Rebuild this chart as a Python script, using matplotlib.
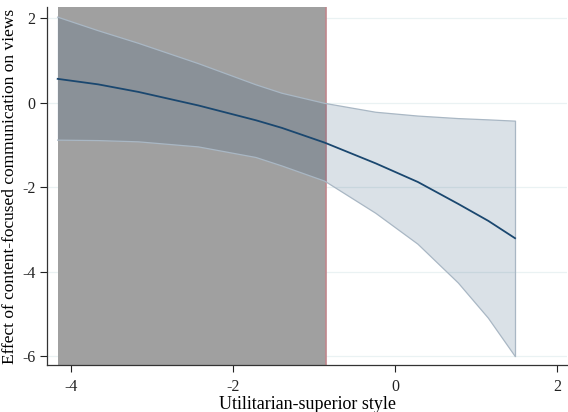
import numpy as np
import matplotlib
matplotlib.use('Agg')
import matplotlib.pyplot as plt

plt.rcParams['font.family'] = ['Liberation Serif', 'DejaVu Serif']
plt.rcParams['axes.unicode_minus'] = False

# values
x = [-4.17, -3.67, -3.17, -2.43, -1.72, -1.40, -0.87, -0.24, 0.28, 0.78, 1.15, 1.48]
effect = [0.56, 0.43, 0.25, -0.07, -0.42, -0.60, -0.95, -1.44, -1.88, -2.40, -2.80, -3.21]
upper = [2.02, 1.70, 1.40, 0.92, 0.42, 0.22, -0.02, -0.23, -0.32, -0.38, -0.41, -0.44]
lower = [-0.89, -0.90, -0.93, -1.05, -1.30, -1.50, -1.86, -2.62, -3.35, -4.27, -5.10, -6.0]
shade_from, shade_to = -4.17, -0.86
xticks = [-4, -2, 0, 2]
yticks = [2, 0, -2, -4, -6]

navy = '#1a476f'

fig = plt.figure(figsize=(5.68, 4.12), dpi=100)
ax = fig.add_axes([0.083, 0.114, 0.915, 0.869])

for yt in yticks:
    ax.axhline(yt, color='#eaf2f3', lw=0.9, zorder=0)

ax.axvspan(shade_from, shade_to, color='#a0a0a0', lw=0, zorder=1)
ax.axvline(shade_to, color='#c0868c', lw=1.2, zorder=2)

ax.fill_between(x, lower, upper, facecolor=navy, alpha=0.16,
                edgecolor='none', zorder=3)
ax.plot(x, upper, color='#a9b7c4', lw=0.9, zorder=3)
ax.plot(x, lower, color='#a9b7c4', lw=0.9, zorder=3)
ax.plot([x[-1], x[-1]], [lower[-1], upper[-1]], color='#a9b7c4', lw=0.9, zorder=3)
ax.plot(x, effect, color=navy, lw=1.3, zorder=4)

ax.set_xlim(-4.30, 2.12)
ax.set_ylim(-6.21, 2.26)
ax.set_xticks(xticks)
ax.set_yticks(yticks)
ax.spines['top'].set_visible(False)
ax.spines['right'].set_visible(False)
for s in ['left', 'bottom']:
    ax.spines[s].set_color('#333333')
    ax.spines[s].set_linewidth(0.9)
ax.tick_params(direction='out', length=5, width=0.8, labelsize=11.5, colors='#222222')
ax.tick_params(axis='x', pad=5)
ax.set_xlabel('Utilitarian-superior style', fontsize=13, labelpad=1)
ax.set_ylabel('Effect of content-focused communication on views', fontsize=12.5, labelpad=3)

plt.savefig('out.png', dpi=100)
